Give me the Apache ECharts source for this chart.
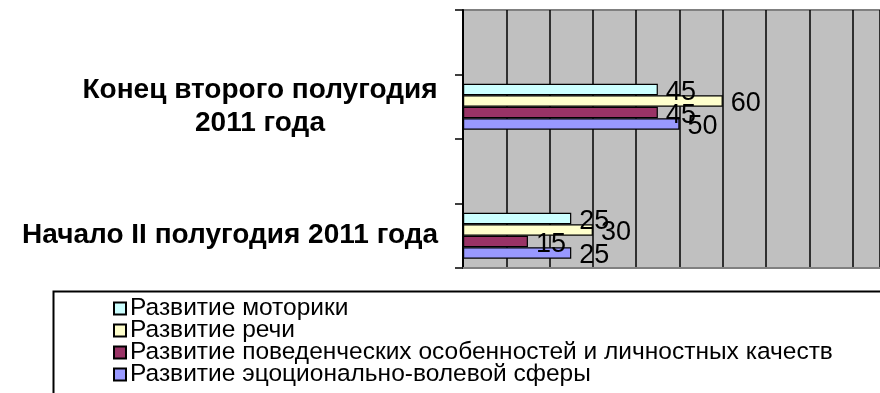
<!DOCTYPE html>
<html>
<head>
<meta charset="utf-8">
<script src="https://cdn.jsdelivr.net/npm/echarts@6/dist/echarts.min.js"></script>
<style>
html,body{margin:0;padding:0;background:#fff;}
#c{width:880px;height:393px;}
</style>
</head>
<body>
<div id="c"></div>
<script>
// Categories from bottom to top (Excel-like), with empty spacer categories
const categories = ['Начало II полугодия 2011 года', '', 'Конец второго полугодия\n2011 года', ' '];
const seriesNames = [
  'Развитие моторики',
  'Развитие речи',
  'Развитие поведенческих особенностей и личностных качеств',
  'Развитие эцоционально-волевой сферы'
];
// values: [Начало II полугодия, Конец второго полугодия]
const motorika = [25, 45];
const rech = [30, 60];
const povedenie = [15, 45];
const emocii = [25, 50];
const xTicks = [0, 10, 20, 30, 40, 50, 60, 70, 80, 90];

const colors = ['#ccffff', '#ffffcc', '#993366', '#9999ff'];
const valueSets = [motorika, rech, povedenie, emocii];

function toCatData(v) { return [v[0], '-', v[1], '-']; }

const chart = echarts.init(document.getElementById('c'));
const series = valueSets.map((v, i) => ({
  name: seriesNames[i],
  type: 'bar',
  yAxisIndex: 0,
  data: toCatData(v),
  barGap: '0%',
  barCategoryGap: '29%',
  itemStyle: { color: colors[i], borderColor: '#000', borderWidth: 1.2 },
  label: {
    show: true, position: 'right', distance: 8, offset: [0, 3],
    color: '#000', fontSize: 27, fontFamily: 'Liberation Sans'
  }
}));

chart.setOption({
  animation: false,
  backgroundColor: '#fff',
  grid: {
    left: 463, top: 10, right: 0, height: 258,
    show: true, backgroundColor: '#c0c0c0', borderWidth: 0
  },
  xAxis: {
    type: 'value', min: xTicks[0], max: 96.3, interval: 10,
    axisLabel: { show: false },
    axisTick: { show: false },
    axisLine: { show: true, lineStyle: { color: '#808080', width: 2 } },
    splitLine: { show: true, lineStyle: { color: '#000', width: 1.5 } }
  },
  yAxis: [{
    type: 'category', data: categories,
    axisLine: { show: false }, axisTick: { show: false },
    axisLabel: {
      color: '#000', fontSize: 28, fontWeight: 'bold', fontFamily: 'Liberation Sans',
      margin: 25, align: 'right', lineHeight: 33,
      formatter: function (v) {
        const lines = v.trim().split('\n');
        if (lines.length > 1) return lines.map(l => '{c|' + l + '}').join('\n');
        return v.trim();
      },
      rich: {
        c: { width: 356, align: 'center', fontSize: 28, fontWeight: 'bold', fontFamily: 'Liberation Sans', color: '#000', lineHeight: 33 }
      }
    }
  }, {
    type: 'value', min: 0, max: 4, interval: 1, position: 'left',
    axisLine: { show: true, onZero: false, lineStyle: { color: '#000', width: 2 } },
    axisTick: { show: true, length: 8, lineStyle: { color: '#000', width: 1.5 } },
    axisLabel: { show: false }, splitLine: { show: false }
  }],
  legend: {
    orient: 'vertical', left: 113, top: 296, height: 200, padding: 0,
    itemWidth: 12, itemHeight: 12, itemGap: -3,
    icon: 'rect',
    data: seriesNames,
    textStyle: { fontSize: 24.5, color: '#000', fontFamily: 'Liberation Sans', lineHeight: 21, padding: [0, 0, 0, -1] }
  },
  graphic: [{
    type: 'rect', left: 51, top: 289, silent: true,
    shape: { width: 900, height: 200 },
    style: { fill: 'none', stroke: '#000', lineWidth: 2 }
  }, {
    type: 'line', silent: true,
    shape: { x1: 463, y1: 10, x2: 880, y2: 10 },
    style: { stroke: '#808080', lineWidth: 2 }
  }],
  series: series
});
</script>
</body>
</html>
